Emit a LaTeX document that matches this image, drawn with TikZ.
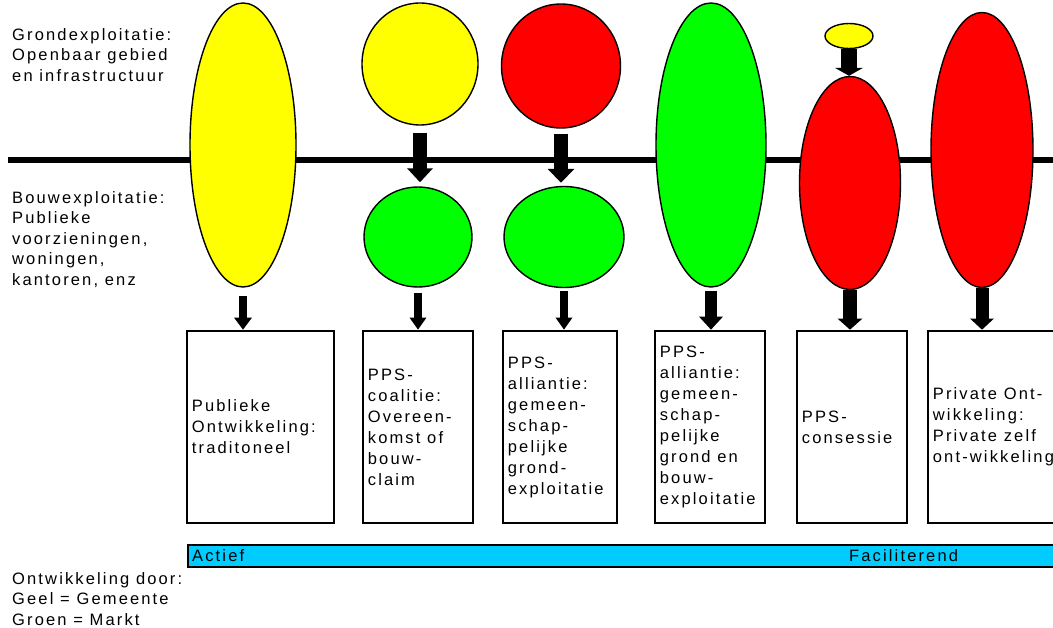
\documentclass[tikz,border=0pt]{standalone}
\usepackage{fontspec}
\setmainfont{Liberation Sans}[LetterSpace=13]
\usetikzlibrary{arrows.meta,calc,shapes.geometric}
\definecolor{cyellow}{RGB}{255,255,0}
\definecolor{cred}{RGB}{255,0,0}
\definecolor{cgreen}{RGB}{0,255,0}
\definecolor{ccyan}{RGB}{0,204,255}
\tikzset{
  oval/.style={ellipse, draw=black, line width=1.4pt, inner sep=0pt},
  boxnode/.style={draw=black, line width=2.6pt, fill=white, inner sep=0pt},
  boxtext/.style={anchor=west, align=left, inner sep=0pt, font=\fontsize{16.5}{21}\selectfont},
  lefttext/.style={anchor=north west, align=left, inner sep=0pt, font=\fontsize{16.5}{20.5}\selectfont},
  blockarrow/.style n args={3}{line width=#1, -{Triangle[width=#2,length=#3]}},
}
\begin{document}
\begin{tikzpicture}[x=1pt,y=-1pt]
\useasboundingbox (0,0) rectangle (1053,628);
\clip (0,0) rectangle (1053,628);
% axis line
\coordinate (lineL) at (8,160);
\coordinate (lineR) at (1060,160);
\draw[line width=6pt] (lineL) -- (lineR);
% ovals
\node[oval, fill=cyellow, minimum width=106pt, minimum height=284pt] (y1) at (243,145) {};
\node[oval, fill=cyellow, minimum width=116pt, minimum height=122pt] (yc) at (420,64) {};
\node[oval, fill=cred, minimum width=119pt, minimum height=124pt] (rc) at (561,66) {};
\node[oval, fill=cgreen, minimum width=108pt, minimum height=100pt] (gc1) at (418,237) {};
\node[oval, fill=cgreen, minimum width=120pt, minimum height=101pt] (gc2) at (564,237) {};
\node[oval, fill=cgreen, minimum width=110pt, minimum height=284pt] (g1) at (711,145) {};
\node[oval, fill=cyellow, minimum width=48pt, minimum height=25pt] (ys) at (849,36) {};
\node[oval, fill=cred, minimum width=101pt, minimum height=213pt] (r1) at (850,183) {};
\node[oval, fill=cred, minimum width=102pt, minimum height=275pt] (r2) at (982,150) {};
% boxes
\node[boxnode, minimum width=147pt, minimum height=192pt] (b1) at (260.5,427) {};
\node[boxnode, minimum width=110pt, minimum height=192pt] (b2) at (418,427) {};
\node[boxnode, minimum width=114pt, minimum height=192pt] (b3) at (560,427) {};
\node[boxnode, minimum width=110pt, minimum height=192pt] (b4) at (710,427) {};
\node[boxnode, minimum width=110pt, minimum height=192pt] (b5) at (852,427) {};
\node[boxnode, minimum width=150pt, minimum height=192pt] (b6) at (1003,427) {};
\node[boxtext] (t1) at ([xshift=6pt]b1.west) {Publieke\\Ontwikkeling:\\traditoneel};
\node[boxtext] (t2) at ([xshift=6pt]b2.west) {PPS-\\coalitie:\\Overeen-\\komst of\\bouw-\\claim};
\node[boxtext] (t3) at ([xshift=6pt]b3.west) {PPS-\\alliantie:\\gemeen-\\schap-\\pelijke\\grond-\\exploitatie};
\node[boxtext] (t4) at ([xshift=6pt]b4.west) {PPS-\\alliantie:\\gemeen-\\schap-\\pelijke\\grond en\\bouw-\\exploitatie};
\node[boxtext] (t5) at ([xshift=6pt]b5.west) {PPS-\\consessie};
\node[boxtext] (t6) at ([xshift=6pt]b6.west) {Private Ont-\\wikkeling:\\Private zelf\\ont-wikkeling};
% arrows
\draw[blockarrow={8pt}{17pt}{12pt}] ($(y1.south)+(0,8)$) -- (y1.south |- b1.north);
\draw[blockarrow={14pt}{25pt}{14pt}] ($(yc.south)+(0,7)$) -- ($(yc.south |- gc1.north)+(0,-4)$);
\draw[blockarrow={14pt}{26pt}{14pt}] ($(rc.south)+(0,5)$) -- ($(rc.south |- gc2.north)+(0,-3)$);
\draw[blockarrow={8pt}{16pt}{12pt}] ($(gc1.south)+(0,5)$) -- (gc1.south |- b2.north);
\draw[blockarrow={8pt}{16pt}{12pt}] ($(gc2.south)+(0,3)$) -- (gc2.south |- b3.north);
\draw[blockarrow={12pt}{23pt}{13pt}] ($(g1.south)+(0,3)$) -- (g1.south |- b4.north);
\draw[blockarrow={16pt}{28pt}{8pt}] (ys.south) -- (ys.south |- r1.north);
\draw[blockarrow={14pt}{24pt}{11pt}] (r1.south) -- (r1.south |- b5.north);
\draw[blockarrow={13pt}{23pt}{11pt}] (r2.south) -- (r2.south |- b6.north);
% bottom bar
\node[draw=black, line width=2pt, fill=ccyan, minimum width=880pt, minimum height=22pt, inner sep=0pt, anchor=north west] (bar) at (187,544) {};
\node[anchor=base west, inner sep=0pt, font=\fontsize{16.5}{20}\selectfont] (actief) at (192,561) {Actief};
\node[anchor=base west, inner sep=0pt, font=\fontsize{16.5}{20}\selectfont] (fac) at (849,561) {Faciliterend};
% left labels
\node[lefttext] (lg) at (12,28) {Grondexploitatie:\\Openbaar gebied\\en infrastructuur};
\node[lefttext] (lb) at (12,191) {Bouwexploitatie:\\Publieke\\voorzieningen,\\woningen,\\kantoren, enz};
\node[lefttext] (lo) at (12,572) {Ontwikkeling door:\\Geel = Gemeente\\Groen = Markt};
\end{tikzpicture}
\end{document}
